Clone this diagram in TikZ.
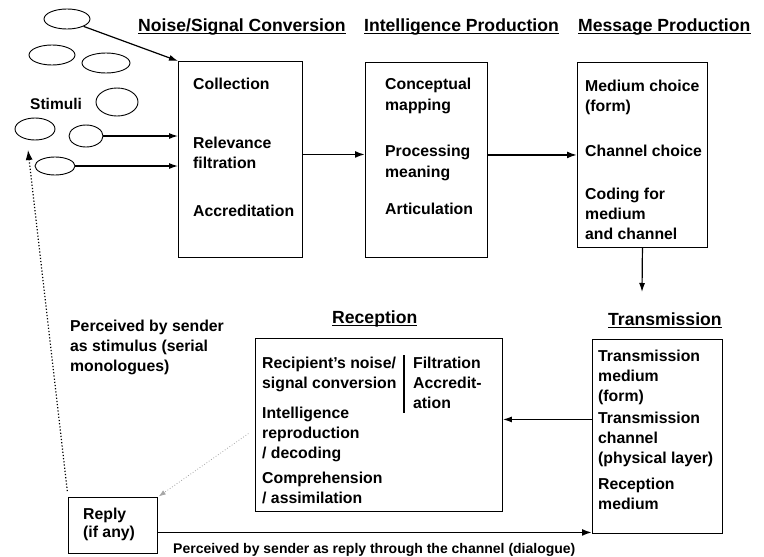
\documentclass[tikz,border=0pt]{standalone}
\usepackage{fontspec}
\setmainfont{Liberation Sans}
\usetikzlibrary{shapes.geometric,arrows.meta}
\begin{document}
\begin{tikzpicture}[x=1pt,y=-1pt,
  stim/.style={draw, ellipse, inner sep=0pt, line width=0.9pt},
  stagebox/.style={draw, rectangle, inner sep=0pt, line width=0.9pt, anchor=north west},
  txt/.style={anchor=north west, inner sep=0pt, align=left,
    font=\fontsize{15.8}{20}\selectfont\bfseries},
  smalltxt/.style={anchor=north west, inner sep=0pt, align=left,
    font=\fontsize{14}{18}\selectfont\bfseries},
  head/.style={anchor=base west, inner sep=0pt,
    font=\fontsize{17.6}{20}\selectfont\bfseries},
  flow/.style={line width=1.2pt, -{Latex[length=9pt,width=6pt]}},
  bigflow/.style={line width=1.8pt, -{Latex[length=10pt,width=7pt]}},
  backloop/.style={dotted, line width=1.2pt, -{Latex[length=10pt,width=7pt]}},
  faintloop/.style={dotted, line width=0.8pt, gray!70, -{Latex[length=7pt,width=5pt]}}]
\useasboundingbox (0,0) rectangle (764,557);

% stimuli cloud
\node[stim, minimum width=46pt, minimum height=20pt] (e1) at (67,19) {};
\node[stim, minimum width=46pt, minimum height=20pt] (e2) at (52,55) {};
\node[stim, minimum width=48pt, minimum height=20pt] (e3) at (106,63) {};
\node[stim, minimum width=42pt, minimum height=28pt] (e4) at (117,102) {};
\node[stim, minimum width=40pt, minimum height=22pt] (e5) at (35,129) {};
\node[stim, minimum width=34pt, minimum height=22pt] (e6) at (86,136) {};
\node[stim, minimum width=40pt, minimum height=18pt] (e7) at (55,166) {};
\node[txt, font=\fontsize{15.5}{20}\selectfont\bfseries] (stimuli) at (30,98) {Stimuli};

% stage headings
\node[head] (h1) at (138,31) {Noise/Signal Conversion};
\node[head] (h2) at (364,31) {Intelligence Production};
\node[head] (h3) at (578,31) {Message Production};
\node[head] (h4) at (608,325) {Transmission};
\node[head] (h5) at (332,323) {Reception};
\foreach \h in {h1,h2,h3,h4,h5}
  \draw[line width=1.4pt] ([yshift=-2.5pt]\h.base west) -- ([yshift=-2.5pt]\h.base east);

% stage boxes
\node[stagebox, minimum width=124pt, minimum height=196pt] (nsc) at (178,61) {};
\node[stagebox, minimum width=122pt, minimum height=195pt] (ip) at (365,62) {};
\node[stagebox, minimum width=130pt, minimum height=185pt] (mp) at (577,62) {};
\node[stagebox, minimum width=130pt, minimum height=194pt] (tr) at (592,339) {};
\node[stagebox, minimum width=247pt, minimum height=173pt] (rc) at (255,338) {};
\node[stagebox, minimum width=89pt, minimum height=56pt] (rp) at (68,497) {};

% noise/signal conversion
\node[txt] (n1) at (193,78) {Collection};
\node[txt] (n2) at (193,137) {Relevance\\filtration};
\node[txt] (n3) at (193,205) {Accreditation};

% intelligence production
\node[txt, font=\fontsize{15.8}{21}\selectfont\bfseries] (i1) at (385,78) {Conceptual\\mapping};
\node[txt, font=\fontsize{15.8}{21}\selectfont\bfseries] (i2) at (385,145) {Processing\\meaning};
\node[txt] (i3) at (385,203) {Articulation};

% message production
\node[txt] (m1) at (585,80) {Medium choice\\(form)};
\node[txt] (m2) at (585,145) {Channel choice};
\node[txt] (m3) at (585,188) {Coding for\\medium\\and channel};

% transmission
\node[txt] (t1) at (598,350) {Transmission\\medium\\(form)};
\node[txt] (t2) at (598,412) {Transmission\\channel\\(physical layer)};
\node[txt] (t3) at (598,478) {Reception\\medium};

% reception
\node[txt] (r1) at (262,357) {Recipient's noise/\\signal conversion};
\node[txt] (r2) at (262,407) {Intelligence\\reproduction\\/ decoding};
\node[txt] (r3) at (262,472) {Comprehension\\/ assimilation};
\node[txt] (r4) at (413,357) {Filtration\\Accredit-\\ation};
\coordinate (divtop) at (404,355);
\coordinate (divbot) at (404,413);
\draw[line width=1.2pt] (divtop) -- (divbot);

% reply and feedback notes
\node[txt, font=\fontsize{15.8}{18}\selectfont\bfseries] (rptext) at (83,508) {Reply\\(if any)};
\node[txt] (serial) at (70,320) {Perceived by sender\\as stimulus (serial\\monologues)};
\node[smalltxt] (dialogue) at (173,543) {Perceived by sender as reply through the channel (dialogue)};

% stimuli entering the first stage
\draw[flow] (e1.south east) -- (nsc.north west);
\draw[flow] (e6.east) -- (e6.east -| nsc.west);
\draw[flow] (e7.east) -- (e7.east -| nsc.west);

% stage to stage
\draw[bigflow] ([yshift=5pt]nsc.east) -- ([yshift=5pt]nsc.east -| ip.west);
\draw[bigflow] ([yshift=5pt]ip.east) -- ([yshift=5pt]ip.east -| mp.west);
\coordinate (drop) at (642,292);
\draw[flow] (mp.south) -- (drop);
\draw[flow] ([yshift=17pt]tr.west) -- ([yshift=17pt]tr.west -| rc.east);
\draw[bigflow] ([yshift=-7pt]rp.east) -- ([yshift=-7pt]rp.east -| tr.west);

% feedback loops
\coordinate (stimret) at (28,150);
\draw[backloop, shorten <=6pt] (rp.north west) -- (stimret);
\draw[faintloop, shorten <=8pt, shorten >=1pt] ([yshift=-4pt]rc.west) -- (rp.north east);
\end{tikzpicture}
\end{document}
